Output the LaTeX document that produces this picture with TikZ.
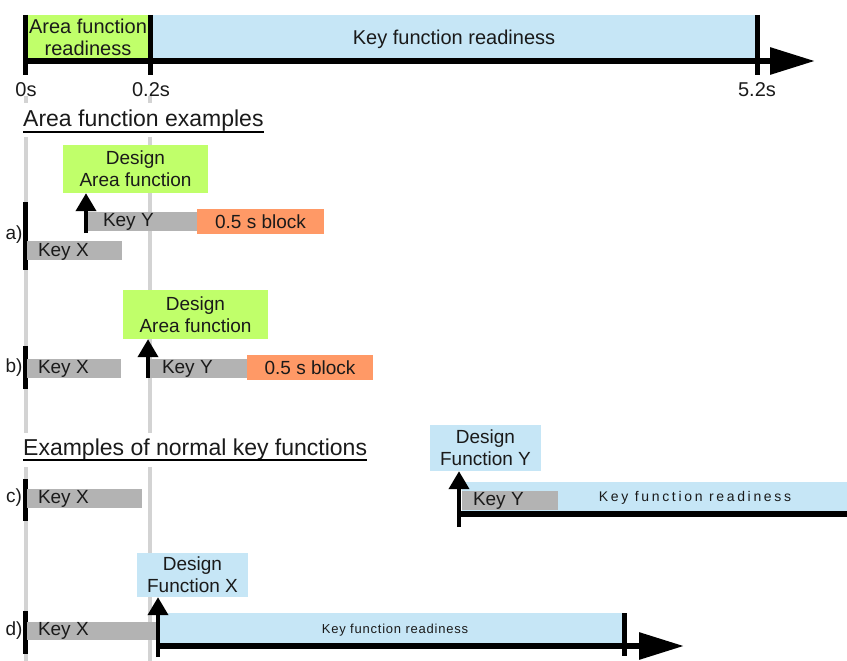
\documentclass[tikz,border=0pt]{standalone}
\usepackage{fontspec}
\setmainfont{Liberation Sans}
\newfontfamily\spacedA[LetterSpace=19]{Liberation Sans}
\newfontfamily\spacedB[LetterSpace=6]{Liberation Sans}
\usetikzlibrary{arrows.meta,calc}
\definecolor{agreen}{HTML}{C0FF6A}
\definecolor{kblue}{HTML}{C6E6F6}
\definecolor{orng}{HTML}{FF9966}
\definecolor{kgray}{HTML}{B3B3B3}
\definecolor{gline}{HTML}{D3D3D3}
\definecolor{txt}{HTML}{1A1A1A}
\tikzset{
  box/.style={inner sep=0pt, draw=none, text=txt, align=center, font=\fontsize{19}{22}\selectfont},
  greenbox/.style={box, fill=agreen},
  bluebox/.style={box, fill=kblue},
  graybar/.style={box, fill=kgray},
  orangebox/.style={box, fill=orng},
  lbl/.style={inner sep=0pt, text=txt, font=\fontsize{19}{22}\selectfont},
  heading/.style={inner sep=0pt, text=txt, font=\fontsize{23}{26}\selectfont},
  guide/.style={draw=gline, line width=4pt},
  vbar/.style={draw=black, line width=5pt},
  uparrow/.style={draw=black, line width=4pt, -{Triangle[length=18pt,width=20pt]}},
  bigarrow/.style={draw=black, line width=6pt, -{Triangle[length=45pt,width=26pt]}},
  baseline line/.style={draw=black, line width=6pt},
}
\begin{document}
\begin{tikzpicture}[x=1pt,y=-1pt]
\useasboundingbox (0,0) rectangle (847,661);
% guide lines
\foreach \gx in {26,150}{
  \draw[guide] (\gx,96) -- (\gx,103);
  \draw[guide] (\gx,137) -- (\gx,433);
  \draw[guide] (\gx,467) -- (\gx,661);
}
% ---------- top time axis ----------
\node[greenbox, minimum width=124pt, minimum height=44pt, font=\fontsize{20}{22}\selectfont] (afr) at (88,37) {Area function\\readiness};
\node[bluebox, minimum width=607pt, minimum height=44pt] (kfr) at (453.5,37) {};
\node[lbl, font=\fontsize{20}{22}\selectfont] at (454,39) {Key function readiness};
\coordinate (ax0) at (23,61);
\coordinate (ax1) at (815,61);
\draw[bigarrow] (ax0) -- (ax1);
\draw[vbar] (25.5,15) -- (25.5,75);
\draw[vbar] (150,15) -- (150,75);
\draw[vbar] (757,15) -- (757,75);
\node[lbl, font=\fontsize{20}{22}\selectfont] (t0) at (26,90) {0s};
\node[lbl, font=\fontsize{20}{22}\selectfont] (t1) at (151,90) {0.2s};
\node[lbl, font=\fontsize{20}{22}\selectfont] (t2) at (757,90) {5.2s};
% ---------- heading 1 ----------
\node[heading, anchor=base west] (h1) at (23,127) {Area function examples};
\draw[line width=1.6pt] (h1.south west) -- (h1.south east);
% ---------- a) ----------
\node[lbl] (la) at (14,235) {a)};
\draw[vbar] (25,202) -- (25,270);
\node[graybar, minimum width=95pt, minimum height=19pt] (akx) at (74.5,250.5) {};
\node[lbl, anchor=west] at ([xshift=11pt,yshift=-1pt]akx.west) {Key X};
\node[graybar, minimum width=109pt, minimum height=19pt] (aky) at (142.5,221.5) {};
\node[lbl, anchor=west] at ([xshift=15pt]aky.west) {Key Y};
\node[orangebox, minimum width=127pt, minimum height=25pt] (abl) at (260.5,221.5) {0.5 s block};
\node[greenbox, minimum width=145pt, minimum height=48pt] (ada) at (135.5,169) {Design\\Area function};
\coordinate (aa) at (86,233);
\draw[uparrow] (aa) -- (aa |- ada.south);
% ---------- b) ----------
\node[lbl] (lb) at (14,368) {b)};
\draw[vbar] (25,346) -- (25,389);
\node[graybar, minimum width=94pt, minimum height=19pt] (bkx) at (74,368.5) {};
\node[lbl, anchor=west] at ([xshift=11pt]bkx.west) {Key X};
\node[graybar, minimum width=99pt, minimum height=19pt] (bky) at (198.5,368.5) {};
\node[lbl, anchor=west] at ([xshift=13pt]bky.west) {Key Y};
\node[orangebox, minimum width=126pt, minimum height=25pt] (bbl) at (310,367.5) {0.5 s block};
\node[greenbox, minimum width=145pt, minimum height=49pt] (bda) at (195.5,314.5) {Design\\Area function};
\coordinate (ba) at (148,378);
\draw[uparrow] (ba) -- (ba |- bda.south);
% ---------- heading 2 ----------
\node[heading, anchor=base west] (h2) at (23,455) {Examples of normal key functions};
\draw[line width=1.6pt] (h2.south west) -- (h2.south east);
% ---------- c) ----------
\node[lbl] (lc) at (14,498) {c)};
\draw[vbar] (25,479) -- (25,521);
\node[graybar, minimum width=115pt, minimum height=19pt] (ckx) at (84.5,498.5) {};
\node[lbl, anchor=west] at ([xshift=11pt]ckx.west) {Key X};
\node[bluebox, minimum width=385pt, minimum height=33pt] (cband) at (654.5,498.5) {};
\node[lbl, font=\fontsize{14}{16}\spacedA] at (695,498) {Key function readiness};
\node[graybar, minimum width=96pt, minimum height=19pt] (cky) at (510,500.5) {};
\node[lbl, anchor=west] at ([xshift=11pt]cky.west) {Key Y};
\coordinate (cl0) at (459,514);
\coordinate (cl1) at (847,514);
\draw[baseline line] (cl0) -- (cl1);
\node[bluebox, minimum width=111pt, minimum height=46pt] (cdf) at (485.5,448) {Design\\Function Y};
\coordinate (ca) at (459,527);
\draw[uparrow] (ca) -- (ca |- cdf.south);
% ---------- d) ----------
\node[lbl] (ld) at (14,631) {d)};
\draw[vbar] (25,611) -- (25,654);
\node[graybar, minimum width=130pt, minimum height=18pt] (dkx) at (92,631) {};
\node[lbl, anchor=west] at ([xshift=11pt]dkx.west) {Key X};
\node[bluebox, minimum width=465pt, minimum height=30pt] (dband) at (390.5,628) {};
\node[lbl, font=\fontsize{13}{15}\spacedB] at (395,630) {Key function readiness};
\coordinate (dl0) at (156,646);
\coordinate (dl1) at (684,646);
\draw[bigarrow] (dl0) -- (dl1);
\draw[vbar] (624,613) -- (624,656);
\node[bluebox, minimum width=111pt, minimum height=44pt] (ddf) at (192.5,575) {Design\\Function X};
\coordinate (da) at (158,657);
\draw[uparrow] (da) -- (da |- ddf.south);
\end{tikzpicture}
\end{document}
